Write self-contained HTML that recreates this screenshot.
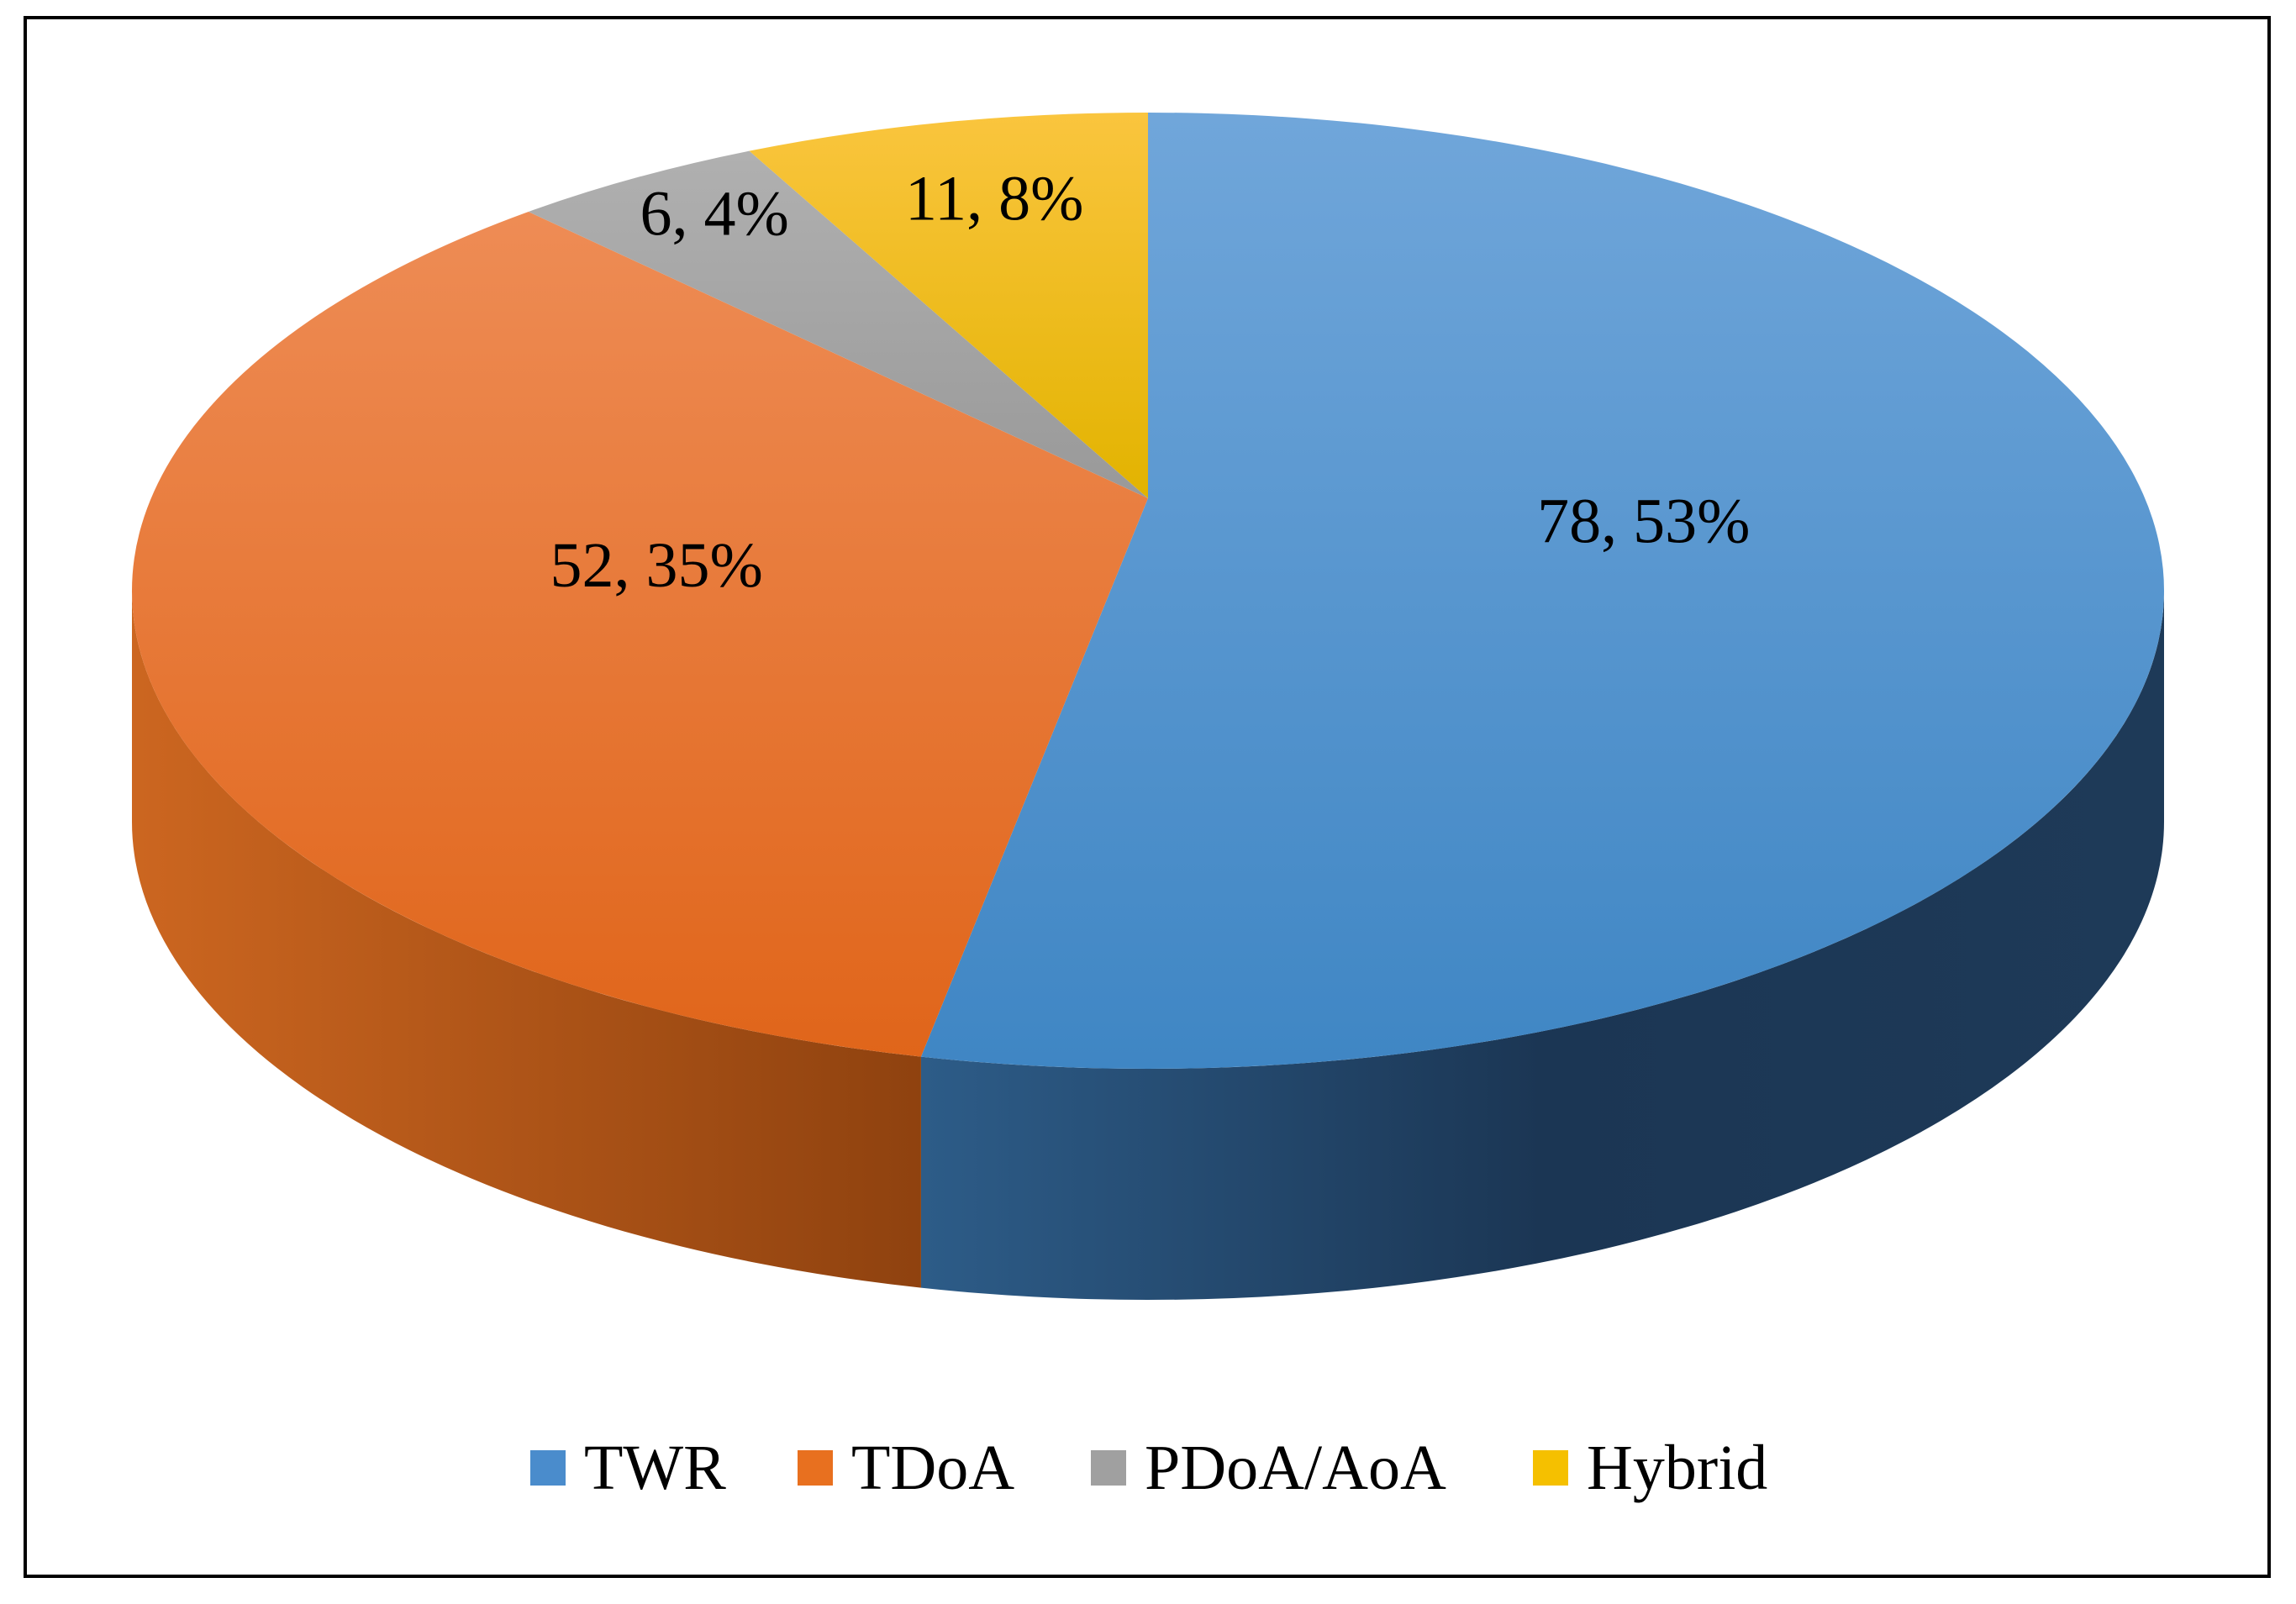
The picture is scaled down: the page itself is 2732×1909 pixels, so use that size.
<!DOCTYPE html>
<html>
<head>
<meta charset="utf-8">
<style>
  html,body{margin:0;padding:0;background:#fff;}
  body{width:2732px;height:1904px;overflow:hidden;}
  svg text{font-family:"Liberation Serif",serif;fill:#000;}
</style>
</head>
<body>
<svg id="chart" width="2732" height="1904" viewBox="0 0 2732 1904" xmlns="http://www.w3.org/2000/svg">
  <defs>
    <linearGradient id="gTopBlue" x1="0" y1="0" x2="0" y2="1"><stop offset="0" stop-color="#70a6da"/><stop offset="1" stop-color="#3f86c4"/></linearGradient>
    <linearGradient id="gTopOrange" x1="0" y1="0" x2="0" y2="1"><stop offset="0" stop-color="#ee8c55"/><stop offset="1" stop-color="#e0651a"/></linearGradient>
    <linearGradient id="gTopGray" x1="0" y1="0" x2="0" y2="1"><stop offset="0" stop-color="#b0b0b0"/><stop offset="1" stop-color="#999"/></linearGradient>
    <linearGradient id="gTopYellow" x1="0" y1="0" x2="0" y2="1"><stop offset="0" stop-color="#fac53e"/><stop offset="1" stop-color="#e2b300"/></linearGradient>
    <linearGradient id="gSideBlue" x1="0" y1="0" x2="1" y2="0"><stop offset="0" stop-color="#2d5c88"/><stop offset="0.5" stop-color="#1b3654"/><stop offset="1" stop-color="#1e3a58"/></linearGradient>
    <linearGradient id="gSideOrange" x1="0" y1="0" x2="1" y2="0"><stop offset="0" stop-color="#cc6620"/><stop offset="1" stop-color="#8f420f"/></linearGradient>
  </defs>
  <rect x="30" y="21" width="2670" height="1855" fill="#fff" stroke="#000" stroke-width="4"/>
  <g id="slices"></g>
  <g id="labels"></g>
  <g id="legend"></g>
</svg>
<script>
const categories = ["TWR", "TDoA", "PDoA/AoA", "Hybrid"];
const values = [78, 52, 6, 11];
const percentLabels = ["53%", "35%", "4%", "8%"];

const topFills = ["url(#gTopBlue)", "url(#gTopOrange)", "url(#gTopGray)", "url(#gTopYellow)"];
const sideFills = ["url(#gSideBlue)", "url(#gSideOrange)", "#808080", "#b08a00"];
const legendColors = ["#4a8ccc", "#e8701f", "#a0a0a0", "#f5c000"];
const labelRX = [0.49, 0.5, 0.85, 0.78];
const labelRY = [0.49, 0.55, 0.69, 0.64];
const cx = 1366, cy = 703, rx = 1209, ry = 569, depth = 275;
const ccy = 593; // apparent centre of the pie (perspective)
const persp = 0.18;
const NS = "http://www.w3.org/2000/svg";
const total = values.reduce((a, b) => a + b, 0);
const D = Math.PI / 180;
// perspective mapping: data angle -> ellipse angle
const phi = deg => {
  if (deg <= 0) return 0;
  if (deg >= 360) return 360;
  const r = deg * D, s = 1 - persp * Math.cos(r);
  let p = Math.atan2(Math.sin(r) * s, Math.cos(r)) / D;
  if (p < 0) p += 360;
  return p;
};
const pt = (deg, dy) => [cx + rx * Math.sin(deg * D), cy - ry * Math.cos(deg * D) + (dy || 0)];
const gS = document.getElementById("slices");
const gL = document.getElementById("labels");
const gLeg = document.getElementById("legend");
let acc = 0;
const ranges = values.map(v => { const a = acc / total * 360; acc += v; return [phi(a), phi(acc / total * 360), a, acc / total * 360]; });

ranges.forEach((rg, i) => {
  const a = Math.max(rg[0], 90), b = Math.min(rg[1], 270);
  if (b <= a) return;
  const p1 = pt(a), p2 = pt(b), p3 = pt(b, depth), p4 = pt(a, depth);
  const lg = (b - a) > 180 ? 1 : 0;
  const path = document.createElementNS(NS, "path");
  path.setAttribute("d", `M${p1[0]},${p1[1]} A${rx},${ry} 0 ${lg} 1 ${p2[0]},${p2[1]} L${p3[0]},${p3[1]} A${rx},${ry} 0 ${lg} 0 ${p4[0]},${p4[1]} Z`);
  path.setAttribute("fill", sideFills[i]);
  
  
  gS.appendChild(path);
});
ranges.forEach((rg, i) => {
  const p1 = pt(rg[0]), p2 = pt(rg[1]);
  const lg = (rg[1] - rg[0]) > 180 ? 1 : 0;
  const path = document.createElementNS(NS, "path");
  path.setAttribute("d", `M${cx},${ccy} L${p1[0]},${p1[1]} A${rx},${ry} 0 ${lg} 1 ${p2[0]},${p2[1]} Z`);
  path.setAttribute("fill", topFills[i]);
  
  
  gS.appendChild(path);
});
ranges.forEach((rg, i) => {
  const mid = phi((rg[2] + rg[3]) / 2) * D;
  const x = cx + rx * labelRX[i] * Math.sin(mid);
  const y = ccy - ry * labelRY[i] * Math.cos(mid);
  const t = document.createElementNS(NS, "text");
  t.setAttribute("x", x);
  t.setAttribute("y", y + 26);
  t.setAttribute("text-anchor", "middle");
  t.setAttribute("font-size", "76");
  t.textContent = values[i] + ", " + percentLabels[i];
  
  
  gL.appendChild(t);
});
const legX = [631, 949, 1298, 1824];
categories.forEach((c, i) => {
  const r = document.createElementNS(NS, "rect");
  r.setAttribute("x", legX[i]); r.setAttribute("y", 1726);
  r.setAttribute("width", 42); r.setAttribute("height", 42);
  r.setAttribute("fill", legendColors[i]);
  
  
  gLeg.appendChild(r);
  const t = document.createElementNS(NS, "text");
  t.setAttribute("x", legX[i] + 64); t.setAttribute("y", 1772);
  t.setAttribute("font-size", "76");
  t.textContent = c;
  
  
  gLeg.appendChild(t);
});
</script>
</body>
</html>
